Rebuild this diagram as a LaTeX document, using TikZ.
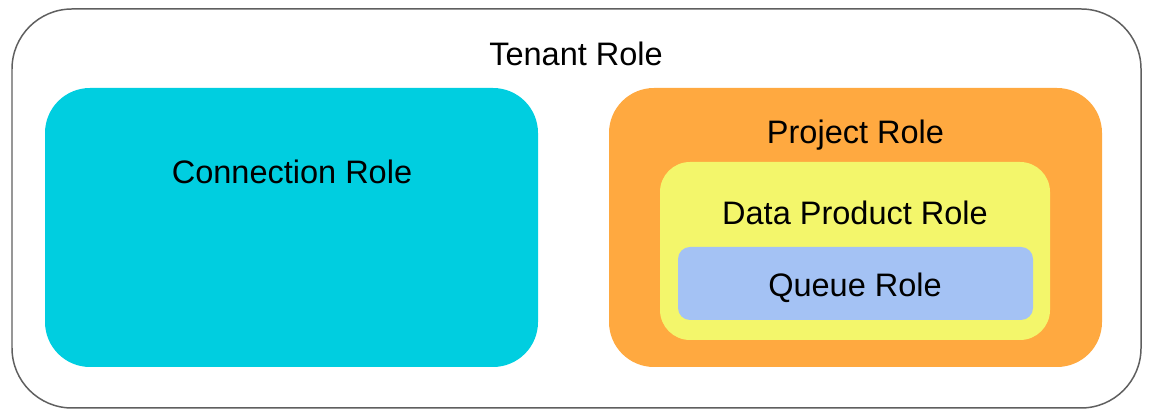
\documentclass[tikz,border=0pt]{standalone}
\usepackage{fontspec}
\setmainfont{Liberation Sans}
\usetikzlibrary{positioning}

\definecolor{rolegrey}{RGB}{95,95,95}
\definecolor{rolecyan}{RGB}{0,206,224}
\definecolor{roleorange}{RGB}{255,169,64}
\definecolor{roleyellow}{RGB}{243,246,107}
\definecolor{roleblue}{RGB}{164,194,244}

\tikzset{
  rolebox/.style={inner sep=0pt, draw=none},
  rolelabel/.style={anchor=base, inner sep=0pt, font=\fontsize{18.5}{22}\selectfont}
}

\begin{document}
\begin{tikzpicture}
  \useasboundingbox (0,0) rectangle (23.04,8.38);

  % outer tenant box
  \node[rolebox, draw=rolegrey, line width=0.85pt, rounded corners=1.2cm,
        minimum width=22.58cm, minimum height=7.98cm] (tenant) at (11.53,4.21) {};
  \node[rolelabel] (tenantlbl) at (11.52,7.06) {Tenant Role};

  % connection
  \node[rolebox, fill=rolecyan, rounded corners=0.9cm,
        minimum width=9.86cm, minimum height=5.58cm] (conn) at (5.83,3.83) {};
  \node[rolelabel] (connlbl) at (5.84,4.70) {Connection Role};

  % project > data product > queue
  \node[rolebox, fill=roleorange, rounded corners=0.9cm,
        minimum width=9.86cm, minimum height=5.58cm] (proj) at (17.11,3.83) {};
  \node[rolelabel] (projlbl) at (17.11,5.50) {Project Role};

  \node[rolebox, fill=roleyellow, rounded corners=0.6cm,
        minimum width=7.8cm, minimum height=3.56cm] (dprod) at (17.10,3.36) {};
  \node[rolelabel] (dprodlbl) at (17.10,3.88) {Data Product Role};

  \node[rolebox, fill=roleblue, rounded corners=0.24cm,
        minimum width=7.1cm, minimum height=1.46cm] (queue) at (17.11,2.71) {};
  \node[rolelabel] (queuelbl) at (17.10,2.44) {Queue Role};

\end{tikzpicture}
\end{document}
